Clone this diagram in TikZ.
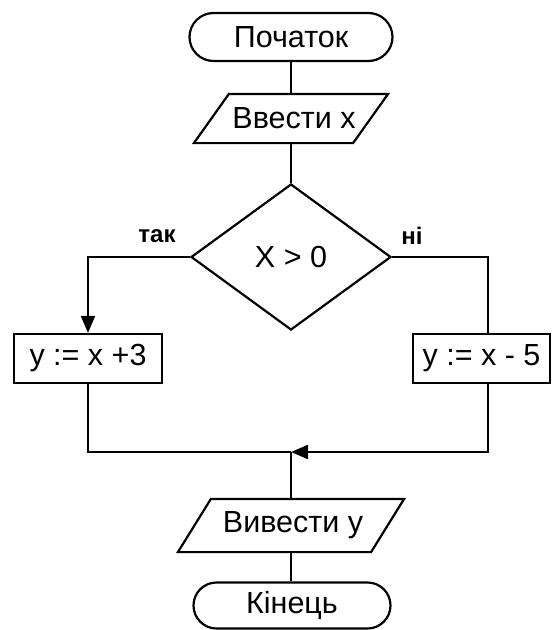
\documentclass[tikz,border=0pt]{standalone}
\usepackage{fontspec}
\setmainfont{Liberation Sans}
\usetikzlibrary{shapes.geometric,shapes.misc,arrows.meta,calc}
\begin{document}
\begin{tikzpicture}[x=1pt,y=-1pt,line width=2.2pt,
  every node/.style={font=\fontsize{30.5}{34}\selectfont, inner sep=0pt},
  term/.style={rounded rectangle, draw, minimum width=#1, minimum height=48pt},
  iobox/.style n args={2}{minimum width=#1, minimum height=#2},
  procbox/.style={rectangle, draw, minimum height=49pt},
  decision/.style={diamond, draw, minimum width=200pt, minimum height=146pt},
  lbl/.style={font=\bfseries\fontsize{24}{28}\selectfont},
  tip/.style={-{Triangle[length=17pt,width=14pt]}}
]
\useasboundingbox (0,0) rectangle (552,630);
\fill[white] (0,0) rectangle (552,630);

\node[term=203pt] (start) at (291,37) {Початок};

\node[iobox={192pt}{47pt}] (in) at (291,118.5) {\hspace*{6pt}Ввести х};
\draw ($(in.north west)+(35,0)$) -- (in.north east) -- ($(in.south east)-(35,0)$) -- (in.south west) -- cycle;

\node[decision] (dec) at (291,257) {X > 0};

\node[procbox, minimum width=148pt] (lbox) at (88,358.5) {y := x +3};
\node[procbox, minimum width=137pt] (rbox) at (481.5,358.5) {y := x - 5};

\node[lbl] (yes) at (157,236) {так};
\node[lbl] (no) at (412,236) {ні};

\node[iobox={224pt}{51pt}] (out) at (291,525.5) {\hspace*{4pt}Вивести у};
\draw ($(out.north west)+(33,0)$) -- (out.north east) -- ($(out.south east)-(33,0)$) -- (out.south west) -- cycle;

\node[term=197pt, minimum height=46pt] (end) at (292,605.5) {Кінець};

\coordinate (rtop) at (488,334);
\coordinate (rbot) at (488,383);
\coordinate (join) at (291,452);

\draw (start.south) -- (in.north);
\draw (in.south) -- (dec.north);
\draw[tip] (dec.west) -| (lbox.north);
\draw (dec.east) -| (rtop);
\draw (lbox.south) |- (join);
\draw[tip] (rbot) |- (join);
\draw (join) -- (out.north);
\draw (out.south) -- (end.north -| out.south);
\end{tikzpicture}
\end{document}
